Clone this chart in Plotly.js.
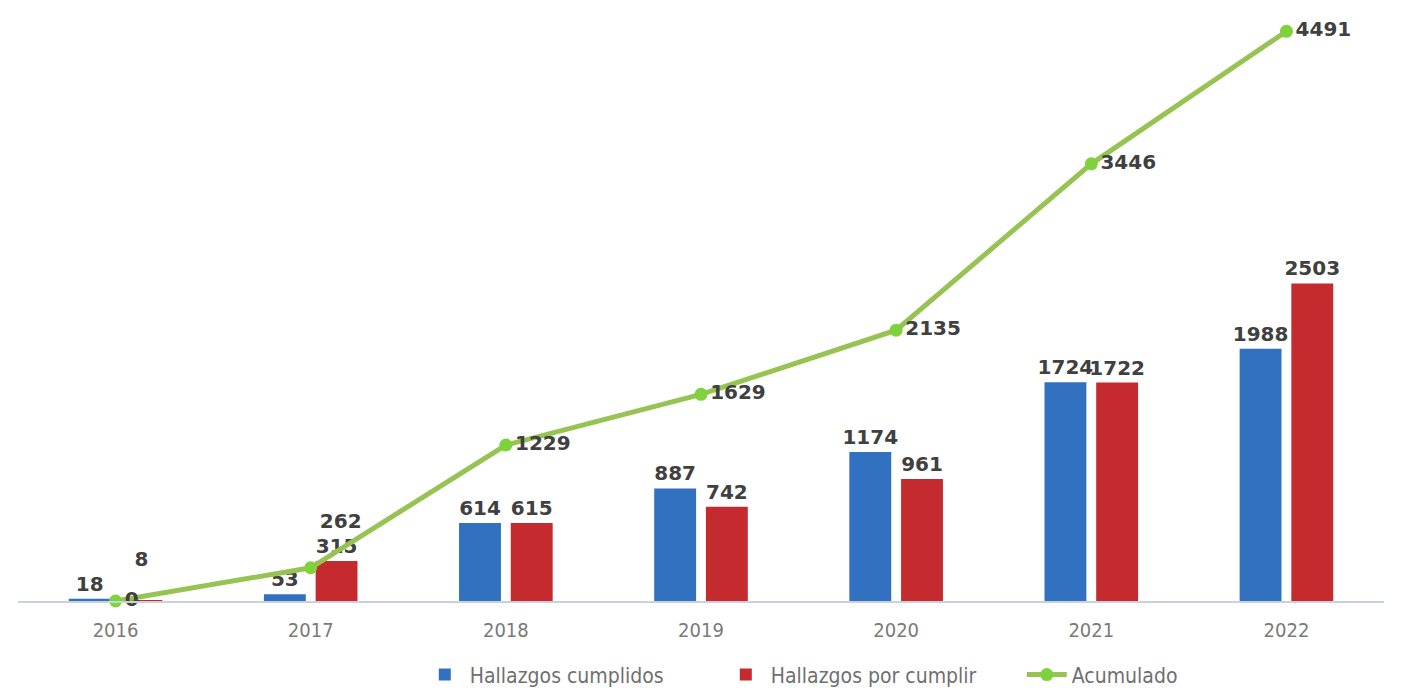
<!DOCTYPE html>
<html>
<head>
<meta charset="utf-8">
<script src="https://cdn.plot.ly/plotly-3.0.1.min.js"></script>
<style>
  body { margin: 0; background: #fff; }
  #chart { width: 1404px; height: 688px; }
</style>
</head>
<body>
<div id="chart"></div>
<script>
var years = ['2016', '2017', '2018', '2019', '2020', '2021', '2022'];
var cumplidos = [18, 53, 614, 887, 1174, 1724, 1988];
var porCumplir = [8, 315, 615, 742, 961, 1722, 2503];
var acumulado = [0, 262, 1229, 1629, 2135, 3446, 4491];

var labelFont = { family: 'DejaVu Sans', size: 20, color: '#404040', weight: 'bold' };
// an empty second line lifts a label that would sit on top of another one
var lifted = '%{y}<br>\u00a0';

var trace1 = {
  type: 'bar',
  x: years,
  y: cumplidos,
  name: 'Hallazgos cumplidos',
  marker: { color: '#3270c0' },
  texttemplate: '%{y}',
  textposition: 'outside',
  constraintext: 'none',
  textfont: labelFont,
  cliponaxis: false
};

var trace2 = {
  type: 'bar',
  x: years,
  y: porCumplir,
  name: 'Hallazgos por cumplir',
  marker: { color: '#c52a2e' },
  texttemplate: [lifted, '%{y}', '%{y}', '%{y}', '%{y}', '%{y}', '%{y}'],
  textposition: 'outside',
  constraintext: 'none',
  textfont: labelFont,
  cliponaxis: false
};

var trace3 = {
  type: 'scatter',
  x: years,
  y: acumulado,
  name: 'Acumulado',
  mode: 'lines+markers+text',
  line: { color: '#97c353', width: 5 },
  marker: { color: '#7fd23c', size: 13 },
  texttemplate: ['%{y}', lifted, '%{y}', '%{y}', '%{y}', '%{y}', '%{y}'],
  textposition: ['middle right', 'top right', 'middle right', 'middle right',
                 'middle right', 'middle right', 'middle right'],
  textfont: labelFont,
  cliponaxis: false
};

var layout = {
  width: 1404,
  height: 688,
  margin: { l: 18, r: 20, t: 20, b: 87 },
  paper_bgcolor: '#ffffff',
  plot_bgcolor: '#ffffff',
  barmode: 'group',
  bargap: 0.47,
  bargroupgap: 0.19,
  showlegend: true,
  legend: {
    orientation: 'h',
    x: 0.299,
    xanchor: 'left',
    xref: 'container',
    y: 0.019,
    yanchor: 'middle',
    yref: 'container',
    font: { family: 'DejaVu Sans Condensed', size: 21, color: '#707070' },
    itemwidth: 40,
    entrywidth: 246
  },
  xaxis: {
    type: 'category',
    showline: true,
    linecolor: '#c9d1dd',
    linewidth: 2,
    ticks: '',
    ticklabelstandoff: 10,
    tickfont: { family: 'DejaVu Sans Condensed', size: 20, color: '#7a7a7a' },
    showgrid: false,
    zeroline: false,
    automargin: false
  },
  yaxis: {
    range: [0, 4580],
    visible: false,
    showgrid: false,
    zeroline: false
  }
};

Plotly.newPlot('chart', [trace1, trace2, trace3], layout, { displayModeBar: false, staticPlot: true });
</script>
</body>
</html>
